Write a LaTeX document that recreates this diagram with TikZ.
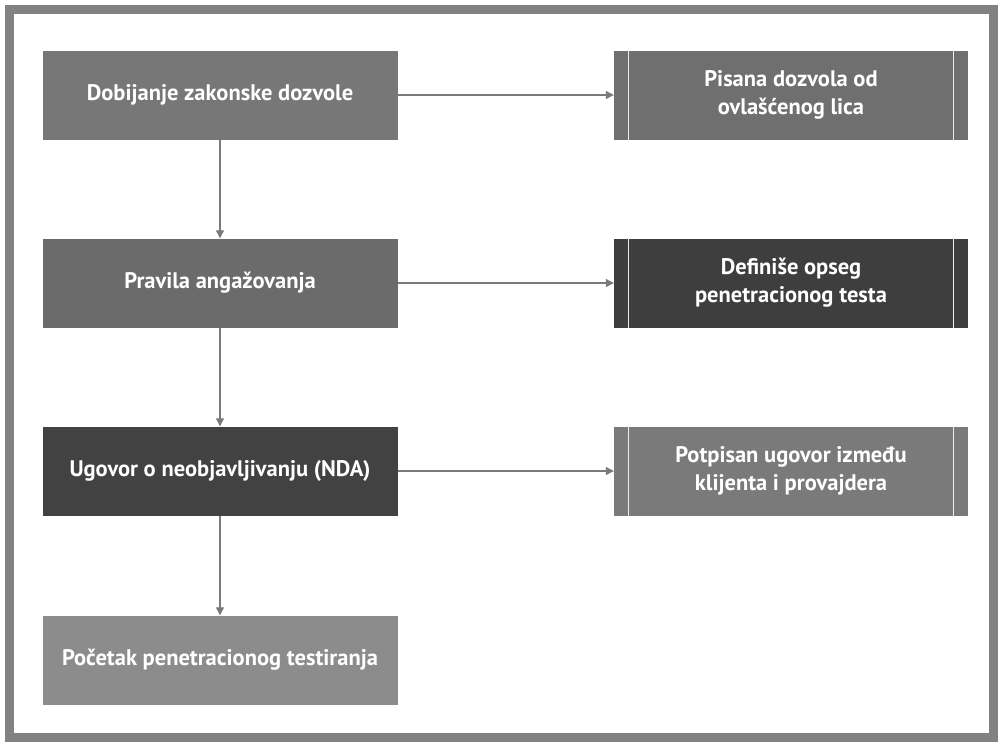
\documentclass[tikz,border=0pt]{standalone}
\usepackage{fontspec}
\setmainfont{PT Sans}
\usetikzlibrary{arrows.meta}
\definecolor{cL1}{HTML}{777777}
\definecolor{cL2}{HTML}{6B6B6B}
\definecolor{cL3}{HTML}{424242}
\definecolor{cL4}{HTML}{8C8C8C}
\definecolor{cR1}{HTML}{6F6F6F}
\definecolor{cR2}{HTML}{3E3E3E}
\definecolor{cR3}{HTML}{7A7A7A}
\definecolor{frame}{HTML}{828282}
\definecolor{conn}{HTML}{7A7A7A}
\tikzset{
  stepbox/.style={minimum width=355pt, minimum height=89pt, inner sep=0pt,
    text=white, font=\bfseries\fontsize{22.5}{28}\selectfont, align=center},
  conn/.style={draw=conn, line width=1.1pt, -{Triangle[length=8pt,width=8pt]}},
  stripe/.style={draw=white!85!gray, line width=0.9pt}
}
\begin{document}
\begin{tikzpicture}[x=1pt,y=-1pt]
\useasboundingbox (0,0) rectangle (1000,742);
\fill[white] (0,0) rectangle (1000,742);
\draw[frame, line width=8.5pt] (9.5,9.5) rectangle (993.5,737.5);
% left column
\node[stepbox, fill=cL1] (l1) at (220,95) {Dobijanje zakonske dozvole};
\node[stepbox, fill=cL2] (l2) at (220,283) {Pravila angažovanja};
\node[stepbox, fill=cL3] (l3) at (220,471) {Ugovor o neobjavljivanju (NDA)};
\node[stepbox, fill=cL4] (l4) at (220,660) {Početak penetracionog testiranja};
% right column
\node[stepbox, minimum width=354pt, fill=cR1] (r1) at (791,95) {Pisana dozvola od\\ovlašćenog lica};
\node[stepbox, minimum width=354pt, fill=cR2] (r2) at (791,283) {Definiše opseg\\penetracionog testa};
\node[stepbox, minimum width=354pt, fill=cR3] (r3) at (791,471) {Potpisan ugovor između\\klijenta i provajdera};
\foreach \r in {r1,r2,r3}{
  \draw[stripe] ([xshift=15pt]\r.north west) -- ([xshift=15pt]\r.south west);
  \draw[stripe] ([xshift=-15pt]\r.north east) -- ([xshift=-15pt]\r.south east);
}
% connectors
\draw[conn] (l1) -- (l2);
\draw[conn] (l2) -- (l3);
\draw[conn] (l3) -- (l4);
\draw[conn] (l1) -- (r1);
\draw[conn] (l2) -- (r2);
\draw[conn] (l3) -- (r3);
\end{tikzpicture}
\end{document}
